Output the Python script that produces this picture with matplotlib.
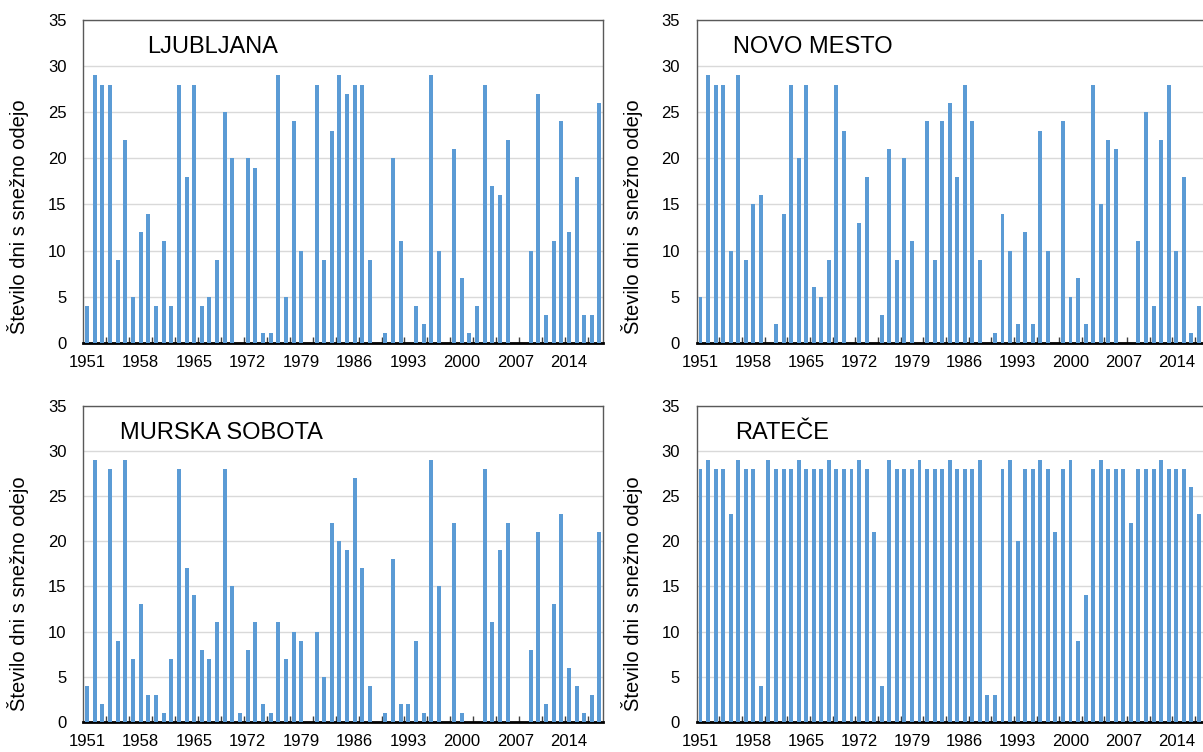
import matplotlib
matplotlib.use("Agg")
import matplotlib.pyplot as plt
import numpy as np

plt.rcParams['font.family'] = ['Liberation Sans', 'DejaVu Sans']

# leta 1951-2018
years = list(range(1951, 2019))

# stevilo dni s snezno odejo (odcitano z grafa)
ljubljana = [4, 29, 28, 28, 9, 22, 5, 12, 14, 4,
             11, 4, 28, 18, 28, 4, 5, 9, 25, 20,
             0, 20, 19, 1, 1, 29, 5, 24, 10, 0,
             28, 9, 23, 29, 27, 28, 28, 9, 0, 1,
             20, 11, 0, 4, 2, 29, 10, 0, 21, 7,
             1, 4, 28, 17, 16, 22, 0, 0, 10, 27,
             3, 11, 24, 12, 18, 3, 3, 26]

# desni grafi so na sliki odrezani - 2018 ni viden
novo_mesto = [5, 29, 28, 28, 10, 29, 9, 15, 16, 0,
              2, 14, 28, 20, 28, 6, 5, 9, 28, 23,
              0, 13, 18, 0, 3, 21, 9, 20, 11, 0,
              24, 9, 24, 26, 18, 28, 24, 9, 0, 1,
              14, 10, 2, 12, 2, 23, 10, 0, 24, 5,
              7, 2, 28, 15, 22, 21, 0, 0, 11, 25,
              4, 22, 28, 10, 18, 1, 4]

murska_sobota = [4, 29, 2, 28, 9, 29, 7, 13, 3, 3,
                 1, 7, 28, 17, 14, 8, 7, 11, 28, 15,
                 1, 8, 11, 2, 1, 11, 7, 10, 9, 0,
                 10, 5, 22, 20, 19, 27, 17, 4, 0, 1,
                 18, 2, 2, 9, 1, 29, 15, 0, 22, 1,
                 0, 0, 28, 11, 19, 22, 0, 0, 8, 21,
                 2, 13, 23, 6, 4, 1, 3, 21]

ratece = [28, 29, 28, 28, 23, 29, 28, 28, 4, 29,
          28, 28, 28, 29, 28, 28, 28, 29, 28, 28,
          28, 29, 28, 21, 4, 29, 28, 28, 28, 29,
          28, 28, 28, 29, 28, 28, 28, 29, 3, 3,
          28, 29, 20, 28, 28, 29, 28, 21, 28, 29,
          9, 14, 28, 29, 28, 28, 28, 22, 28, 28,
          28, 29, 28, 28, 28, 26, 23]

# (naslov, podatki, [levo, zgoraj, sirina, visina] v pikslih, x naslova, zamik y-naslova)
panels = [
    ("LJUBLJANA", ljubljana, [83.3, 20, 520, 322.7], 147, 35),
    ("NOVO MESTO", novo_mesto, [696.7, 20, 513.5, 322.7], 733, 35),
    ("MURSKA SOBOTA", murska_sobota, [83.3, 406, 520, 315.7], 120, 30),
    ("RATEČE", ratece, [696.7, 406, 513.5, 315.7], 735, 30),
]

W, H = 1203, 752
fig = plt.figure(figsize=(W / 100, H / 100), dpi=100)

bar_color = '#5B9BD5'
n = len(years)

for name, vals, (px, py, pw, ph), tx, yoff in panels:
    ax = fig.add_axes([px / W, (H - py - ph) / H, pw / W, ph / H])
    x = np.arange(len(vals))
    ax.bar(x, vals, width=0.52, color=bar_color, zorder=3)

    ax.set_xlim(-0.5, n - 0.5)
    ax.set_ylim(0, 35)
    ax.set_yticks(range(0, 36, 5))
    ax.yaxis.grid(True, color='#d9d9d9', linewidth=1.0, zorder=0)
    ax.set_axisbelow(True)

    ax.set_xticks(np.arange(0, n, 7))
    ax.set_xticklabels([str(years[i]) for i in range(0, n, 7)])
    ax.set_xticks(np.arange(2.5, n - 0.5, 3), minor=True)
    ax.tick_params(axis='x', which='major', length=0, pad=9, labelsize=12)
    ax.tick_params(axis='x', which='minor', direction='in', length=4,
                   width=1.0, color='#404040')
    ax.tick_params(axis='y', length=0, pad=12, labelsize=12)

    for s in ['top', 'left', 'right']:
        ax.spines[s].set_color('#595959')
        ax.spines[s].set_linewidth(1.0)
    ax.spines['bottom'].set_color('black')
    ax.spines['bottom'].set_linewidth(2.0)

    # ime postaje
    fig.text(tx / W, (H - (py + 27)) / H, name, fontsize=17,
             ha='left', va='center')

    # naslov osi y
    fig.text((px - 65) / W, (H - (py + ph / 2 + yoff)) / H,
             'Število dni s snežno odejo', rotation=90,
             ha='center', va='center', fontsize=14.5)

fig.savefig('out.png', dpi=100)
